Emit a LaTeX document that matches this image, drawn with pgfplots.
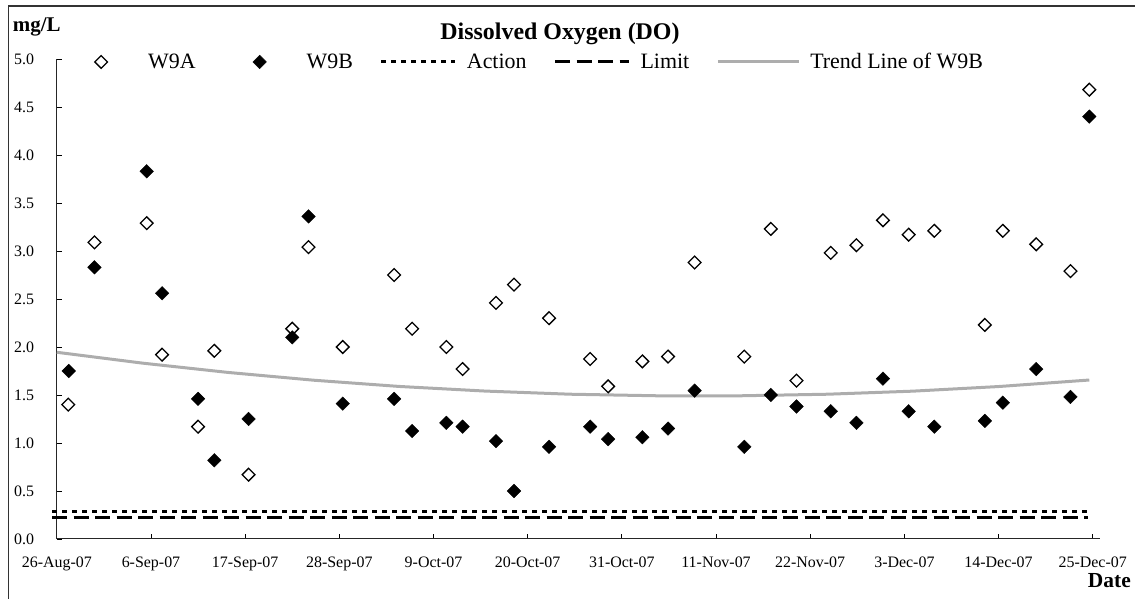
\documentclass[border=0pt]{standalone}
\usepackage{fontspec}
\setmainfont{Liberation Serif}
\usepackage{pgfplots}
\pgfplotsset{compat=1.18}
\usepackage{pgfplotstable}
\definecolor{trendgray}{gray}{0.68}

\pgfplotstableread{
d v
1.34 1.40
4.4 3.09
10.5 3.29
12.3 1.92
16.5 1.17
18.4 1.96
22.4 0.67
27.5 2.19
29.4 3.04
33.4 2.00
39.4 2.75
41.5 2.19
45.5 2.00
47.4 1.77
51.3 2.46
53.4 2.65
57.5 2.30
62.3 1.875
64.4 1.59
68.4 1.85
71.4 1.90
74.5 2.88
80.3 1.90
83.4 3.23
86.4 1.65
90.4 2.98
93.4 3.06
96.5 3.32
99.5 3.17
102.5 3.21
108.4 2.23
110.5 3.21
114.4 3.07
118.4 2.79
120.6 4.68
}\wnineA

\pgfplotstableread{
d v
1.4 1.75
4.4 2.83
10.5 3.83
12.3 2.56
16.5 1.46
18.4 0.82
22.4 1.25
27.5 2.10
29.4 3.36
33.4 1.41
39.4 1.46
41.5 1.125
45.5 1.21
47.4 1.17
51.3 1.02
53.4 0.50
57.5 0.96
62.3 1.17
64.4 1.04
68.4 1.06
71.4 1.15
74.5 1.545
80.3 0.96
83.4 1.50
86.4 1.38
90.4 1.33
93.4 1.21
96.5 1.67
99.5 1.33
102.5 1.17
108.4 1.23
110.5 1.42
114.4 1.77
118.4 1.48
120.6 4.40
}\wnineB

\pgfplotstableread{
d v
0 1.945
10 1.832
20 1.735
30 1.654
40 1.589
50 1.541
60 1.508
70 1.492
80 1.492
90 1.508
100 1.540
110 1.588
120.6 1.656
}\trend

\pgfplotsset{
  markleg/.style={legend image code/.code={\path[draw=none,fill=none] (0bp,-1bp) rectangle (74bp,1bp); \draw[##1] plot coordinates {(37bp,0bp)};}},
  lineleg/.style={legend image code/.code={\draw[##1] (0bp,0bp) -- (74bp,0bp);}},
  trendleg/.style={legend image code/.code={\draw[##1] (0bp,0bp) -- (81bp,0bp);}},
}

\begin{document}
\begin{tikzpicture}[x=1bp,y=1bp]
\useasboundingbox (0,0) rectangle (1135,599);
\draw[line width=1.5bp, black!80] (8.3,-3) -- (8.3,593) -- (1138,593);
\begin{axis}[
  at={(56.8bp,60bp)}, anchor=south west,
  scale only axis, width=1043.2bp, height=480bp,
  xmin=0, xmax=121.85, ymin=0, ymax=5,
  axis x line*=bottom, axis y line*=left,
  axis line style={line width=1bp, black!85},
  clip=false,
  xtick={0,11,22,33,44,55,66,77,88,99,110,121},
  xticklabels={26-Aug-07,6-Sep-07,17-Sep-07,28-Sep-07,9-Oct-07,20-Oct-07,31-Oct-07,11-Nov-07,22-Nov-07,3-Dec-07,14-Dec-07,25-Dec-07},
  ytick={0,0.5,1,1.5,2,2.5,3,3.5,4,4.5,5},
  yticklabel={\pgfmathprintnumber[fixed,fixed zerofill,precision=1]{\tick}},
  /pgf/number format/assume math mode=true,
  tick align=inside,
  major tick length=5bp,
  tick style={black, line width=0.8bp},
  ticklabel style={font=\fontsize{16}{16}\selectfont},
  yticklabel style={anchor=east, inner sep=0pt, xshift=-22.5bp},
  xticklabel style={anchor=north, inner sep=0pt, yshift=-17.7bp},
  legend columns=5,
  legend cell align=left,
  legend style={draw=none, fill=none, at={(0.0069,0.99375)}, anchor=west,
    inner sep=0pt, font=\fontsize{22}{22}\selectfont,
    nodes={inner sep=0pt},
    /tikz/every odd column/.append style={column sep=10bp},
    /tikz/every even column/.append style={column sep=27bp}},
]
\addlegendimage{markleg, mark=square, mark size=4.5bp, mark options={rotate=45, line width=1.3bp, fill=white, draw=black}}
\addlegendentry{W9A}
\addlegendimage{markleg, mark=square*, mark size=4.8bp, mark options={rotate=45, fill=black, draw=black}}
\addlegendentry{W9B}
\addlegendimage{lineleg, black, line width=3bp, dash pattern=on 5bp off 5bp}
\addlegendentry{Action}
\addlegendimage{lineleg, black, line width=3bp, dash pattern=on 15bp off 6.5bp}
\addlegendentry{Limit}
\addlegendimage{trendleg, trendgray, line width=3bp}
\addlegendentry{Trend Line of W9B}

\addplot[forget plot, black, line width=3bp, dash pattern=on 5bp off 5bp] coordinates {(-0.56,0.29) (120.5,0.29)};
\addplot[forget plot, black, line width=3bp, dash pattern=on 15bp off 6.5bp] coordinates {(-0.56,0.22) (120.5,0.22)};
\addplot[forget plot, trendgray, line width=3bp] table[x=d,y=v]{\trend};
\addplot[forget plot, only marks, mark=square*, mark size=4.8bp, mark options={rotate=45, fill=black, draw=black}] table[x=d,y=v]{\wnineB};
\addplot[forget plot, only marks, mark=square, mark size=4.5bp, mark options={rotate=45, line width=1.3bp, fill=white, draw=black}] table[x=d,y=v]{\wnineA};
\end{axis}
\node[font=\bfseries\fontsize{24}{24}\selectfont, anchor=base, inner sep=0pt] at (560,559.7) {Dissolved Oxygen (DO)};
\node[font=\bfseries\fontsize{21}{21}\selectfont, anchor=base west, inner sep=0pt] at (12.7,567.3) {mg/L};
\node[font=\bfseries\fontsize{21.5}{21.5}\selectfont, anchor=base east, inner sep=0pt] at (1131,11) {Date};
\end{tikzpicture}
\end{document}
